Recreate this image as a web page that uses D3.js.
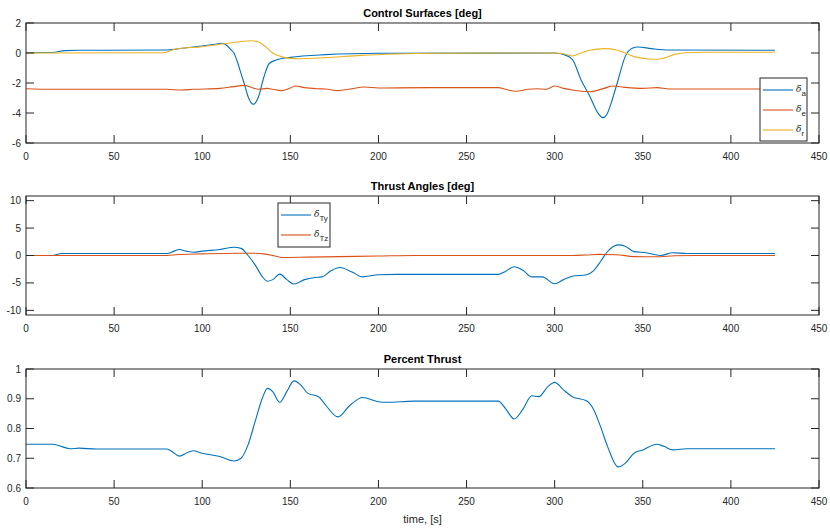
<!DOCTYPE html>
<html>
<head>
<meta charset="utf-8">
<script src="https://cdn.jsdelivr.net/npm/d3@7"></script>
<style>
  body { margin: 0; background: #fff; }
  svg { font-family: "Liberation Sans", Arial, sans-serif; }
</style>
</head>
<body>
<svg id="chart" width="830" height="532"></svg>
<script>
// Control surfaces [deg]: [time, value]
const deltaA = [[0,0.02],[15,0.03],[22,0.16],[30,0.18],[80,0.2],[90,0.33],[100,0.47],[108,0.6],[111,0.65],[114,0.5],[116,0.25],[118,0],[120,-0.6],[122,-1.36],[124,-2.1],[126,-2.9],[129,-3.42],[132,-2.9],[135,-1.6],[138,-0.7],[142,-0.47],[150,-0.29],[170,-0.11],[200,-0.02],[300,0],[305,-0.1],[310,-0.42],[315,-1.8],[320,-2.9],[324,-3.9],[327.4,-4.31],[330,-4.0],[332,-3.36],[336,-1.8],[340,-0.24],[344,0.31],[347,0.4],[355,0.29],[365,0.2],[425,0.18]];
const deltaE = [[0,-2.38],[15,-2.42],[80,-2.42],[88,-2.47],[95,-2.42],[110,-2.36],[118,-2.24],[124,-2.16],[128,-2.3],[132,-2.42],[137,-2.36],[140,-2.42],[145,-2.51],[150,-2.33],[153,-2.2],[158,-2.31],[165,-2.38],[170,-2.4],[177,-2.51],[185,-2.38],[192,-2.27],[200,-2.33],[230,-2.31],[268,-2.31],[272,-2.42],[278,-2.55],[285,-2.42],[290,-2.38],[295,-2.42],[300,-2.2],[305,-2.36],[310,-2.47],[320,-2.58],[328,-2.36],[333,-2.2],[340,-2.29],[350,-2.36],[358,-2.31],[365,-2.4],[425,-2.4]];
const deltaR = [[0,0],[78,0.02],[85,0.27],[100,0.42],[110,0.58],[120,0.73],[128,0.82],[132,0.73],[136,0.42],[140,0],[145,-0.24],[150,-0.36],[155,-0.38],[170,-0.31],[190,-0.16],[210,-0.07],[230,-0.02],[300,0],[305,-0.05],[310,-0.2],[315,0],[320,0.18],[328,0.29],[335,0.2],[340,0],[345,-0.24],[352,-0.38],[358,-0.42],[362,-0.34],[368,-0.09],[375,0.02],[385,0.05],[425,0.05]];

// Thrust angles [deg]
const deltaTy = [[0,0],[15,0],[20,0.36],[80,0.36],[84,0.8],[87,1.09],[91,0.8],[95,0.6],[100,0.8],[110,1.1],[118,1.5],[122,1.3],[126,0],[130,-1.7],[134,-3.8],[137,-4.7],[140,-4.4],[144,-3.4],[148,-4.4],[152,-5.2],[158,-4.4],[164,-4.0],[168,-3.9],[173,-2.8],[178,-2.2],[185,-3.0],[191,-3.9],[200,-3.5],[210,-3.45],[268,-3.45],[272,-2.9],[277,-2.06],[282,-2.7],[287,-3.9],[293,-3.9],[300,-5.15],[305,-4.4],[310,-3.8],[318,-3.5],[322,-2.8],[326,-1.1],[330,0.73],[336,1.94],[340,1.7],[345,0.7],[352,0.5],[360,0],[367,0.5],[375,0.36],[425,0.36]];
const deltaTz = [[0,0],[80,0],[85,0.15],[100,0.3],[120,0.42],[130,0.42],[135,0.3],[140,0],[145,-0.36],[160,-0.3],[200,-0.1],[220,0],[310,0],[318,0.1],[325,0.2],[335,0.15],[345,-0.2],[358,-0.24],[368,-0.05],[380,0],[425,0]];

// Percent thrust
const thrust = [[0,0.747],[15,0.747],[20,0.74],[25,0.732],[30,0.734],[40,0.731],[80,0.731],[83,0.722],[87,0.707],[92,0.72],[95,0.725],[100,0.717],[110,0.706],[118,0.691],[122,0.7],[126,0.745],[130,0.823],[134,0.9],[137,0.935],[140,0.924],[144,0.888],[148,0.924],[152,0.96],[156,0.946],[160,0.918],[166,0.907],[170,0.879],[177,0.839],[184,0.879],[191,0.904],[200,0.89],[205,0.888],[220,0.892],[268,0.892],[272,0.868],[277,0.832],[282,0.865],[287,0.91],[291,0.907],[296,0.94],[300,0.955],[305,0.93],[310,0.907],[318,0.893],[322,0.865],[326,0.807],[330,0.74],[336,0.671],[340,0.683],[345,0.717],[350,0.728],[358,0.747],[362,0.74],[367,0.728],[375,0.732],[425,0.732]];

const xTicks = [0, 50, 100, 150, 200, 250, 300, 350, 400, 450];
const yTicks1 = [-6, -4, -2, 0, 2];
const yTicks2 = [-10, -5, 0, 5, 10];
const yTicks3 = [0.6, 0.7, 0.8, 0.9, 1];

const blue = "#0072BD", red = "#D95319", yellow = "#EDB120";
const axisColor = "#262626";

const svg = d3.select("#chart");
const x = d3.scaleLinear().domain([0, 450]).range([26, 819]);
const tickLen = 8;

function panel(opts) {
  const y = d3.scaleLinear().domain(opts.yDomain).range([opts.top + opts.h, opts.top]);
  const g = svg.append("g");

  // lines
  const line = d3.line().x(d => x(d[0])).y(d => y(d[1])).curve(d3.curveMonotoneX);
  opts.series.forEach(s => {
    g.append("path")
      .datum(s.data)
      .attr("fill", "none")
      .attr("stroke", s.color)
      .attr("stroke-width", 1.1)
      .attr("d", line);
  });

  // box
  g.append("rect")
    .attr("x", x(0)).attr("y", opts.top)
    .attr("width", x(450) - x(0)).attr("height", opts.h)
    .attr("fill", "none").attr("stroke", axisColor).attr("stroke-width", 1);

  // x ticks (bottom + top, inward)
  xTicks.forEach(t => {
    g.append("line").attr("x1", x(t)).attr("x2", x(t))
      .attr("y1", opts.top + opts.h).attr("y2", opts.top + opts.h - tickLen)
      .attr("stroke", axisColor);
    g.append("line").attr("x1", x(t)).attr("x2", x(t))
      .attr("y1", opts.top).attr("y2", opts.top + tickLen)
      .attr("stroke", axisColor);
    g.append("text").attr("x", x(t)).attr("y", opts.top + opts.h + 17)
      .attr("text-anchor", "middle").attr("font-size", 10).attr("fill", axisColor)
      .text(t);
  });

  // y ticks (left + right, inward)
  opts.yTicks.forEach(t => {
    g.append("line").attr("x1", x(0)).attr("x2", x(0) + tickLen)
      .attr("y1", y(t)).attr("y2", y(t)).attr("stroke", axisColor);
    g.append("line").attr("x1", x(450)).attr("x2", x(450) - tickLen)
      .attr("y1", y(t)).attr("y2", y(t)).attr("stroke", axisColor);
    g.append("text").attr("x", x(0) - 5).attr("y", y(t) + 3.5)
      .attr("text-anchor", "end").attr("font-size", 10).attr("fill", axisColor)
      .text(t);
  });

  // title
  g.append("text").attr("x", (x(0) + x(450)) / 2).attr("y", opts.top - 6)
    .attr("text-anchor", "middle").attr("font-size", 11).attr("font-weight", "bold")
    .attr("fill", "#000").text(opts.title);

  // legend
  if (opts.legend) {
    const L = opts.legend;
    g.append("rect").attr("x", L.x).attr("y", L.y).attr("width", L.w).attr("height", L.h)
      .attr("fill", "#fff").attr("stroke", axisColor);
    opts.series.forEach((s, i) => {
      const ly = L.y + L.first + i * L.step;
      g.append("line").attr("x1", L.x + 3).attr("x2", L.x + 33)
        .attr("y1", ly).attr("y2", ly).attr("stroke", s.color).attr("stroke-width", 1.1);
      const tx = g.append("text").attr("x", L.x + 36).attr("y", ly + 2)
        .attr("font-size", 10).attr("fill", axisColor);
      tx.append("tspan").attr("font-family", "DejaVu Serif").attr("font-style", "italic")
        .attr("font-size", 9).text("δ");
      tx.append("tspan").attr("dy", 4).attr("font-size", 8).text(s.sub);
    });
  }
  return g;
}

panel({
  top: 23, h: 120, yDomain: [-6, 2], yTicks: yTicks1,
  title: "Control Surfaces [deg]",
  series: [
    { data: deltaA, color: blue, sub: "a" },
    { data: deltaE, color: red, sub: "e" },
    { data: deltaR, color: yellow, sub: "r" }
  ],
  legend: { x: 760, y: 78, w: 47, h: 63, first: 12, step: 20 }
});

panel({
  top: 196, h: 119, yDomain: [-10.85, 10.85], yTicks: yTicks2,
  title: "Thrust Angles [deg]",
  series: [
    { data: deltaTy, color: blue, sub: "Ty" },
    { data: deltaTz, color: red, sub: "Tz" }
  ],
  legend: { x: 278, y: 203, w: 52, h: 44, first: 12, step: 20 }
});

panel({
  top: 369, h: 119, yDomain: [0.6, 1], yTicks: yTicks3,
  title: "Percent Thrust",
  series: [{ data: thrust, color: blue }]
});

svg.append("text").attr("x", (x(0) + x(450)) / 2).attr("y", 523)
  .attr("text-anchor", "middle").attr("font-size", 11).attr("fill", axisColor)
  .text("time, [s]");
</script>
</body>
</html>
